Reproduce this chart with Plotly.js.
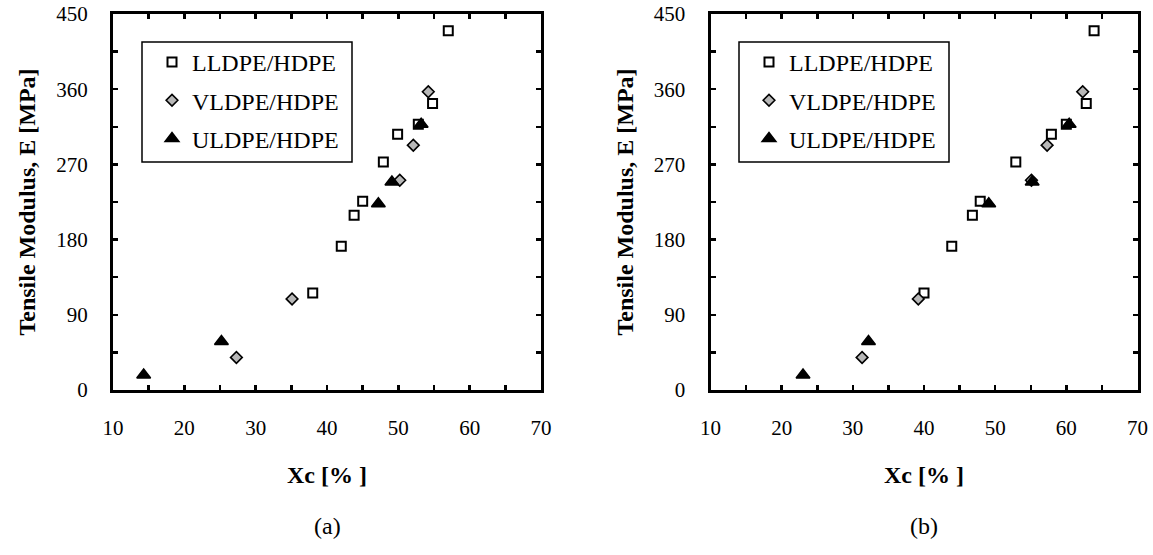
<!DOCTYPE html>
<html>
<head>
<meta charset="utf-8">
<script src="https://cdn.plot.ly/plotly-3.0.1.min.js"></script>
<style>
  html, body { margin: 0; padding: 0; background: #fff; }
  #chart { width: 1153px; height: 555px; }
</style>
</head>
<body>
<div id="chart"></div>
<script>
// Tensile modulus E [MPa] of each blend series (same specimens in both panels)
const modulusLLDPE = [116, 172, 209, 226, 273, 306, 318, 343, 430];
const modulusVLDPE = [39, 109, 251, 293, 357];
const modulusULDPE = [18, 58, 223, 249, 318];

// Crystallinity Xc [%] – panel (a)
const xcA_LLDPE = [38.0, 42.0, 43.8, 45.0, 47.9, 49.9, 52.8, 54.8, 57.0];
const xcA_VLDPE = [27.3, 35.1, 50.2, 52.1, 54.2];
const xcA_ULDPE = [14.3, 25.2, 47.2, 49.1, 53.2];

// Crystallinity Xc [%] – panel (b)
const xcB_LLDPE = [40.0, 43.9, 46.8, 47.9, 52.9, 57.9, 60.0, 62.8, 63.9];
const xcB_VLDPE = [31.3, 39.2, 55.1, 57.3, 62.3];
const xcB_ULDPE = [23.0, 32.2, 49.1, 55.2, 60.4];

const seriesNames = ['LLDPE/HDPE', 'VLDPE/HDPE', 'ULDPE/HDPE'];
const xTicks = [10, 20, 30, 40, 50, 60, 70];
const yTicks = [0, 90, 180, 270, 360, 450];
const panelLabels = ['(a)', '(b)'];

const W = 1153, H = 555;
const px = v => v / W;           // pixel -> paper x
const py = v => (H - v) / H;     // pixel (from top) -> paper y
const SERIF = 'Liberation Serif, Times New Roman, serif';

const markerStyles = [
  { symbol: 'square-open', size: 9, color: '#000', line: { color: '#000', width: 2 } },
  { symbol: 'diamond', size: 9, color: '#b8b8b8', line: { color: '#000', width: 1.6 } },
  { symbol: 'triangle-up', size: 12, color: '#000', line: { color: '#000', width: 1.5 } }
];

function makeTraces(xs, ys, xa, ya, legendId, suffix) {
  return xs.map((x, i) => ({
    type: 'scatter', mode: 'markers',
    x: x, y: ys[i],
    name: seriesNames[i],
    xaxis: xa, yaxis: ya,
    legend: legendId,
    legendgroup: seriesNames[i] + suffix,
    marker: markerStyles[i],
    cliponaxis: false
  }));
}

const moduli = [modulusLLDPE, modulusVLDPE, modulusULDPE];
const data = [].concat(
  makeTraces([xcA_LLDPE, xcA_VLDPE, xcA_ULDPE], moduli, 'x', 'y', 'legend', 'a'),
  makeTraces([xcB_LLDPE, xcB_VLDPE, xcB_ULDPE], moduli, 'x2', 'y2', 'legend2', 'b')
);

function xAxis(domain, anchor) {
  return {
    domain: domain, anchor: anchor, range: [10, 70],
    tickvals: xTicks, ticktext: xTicks.map(String),
    ticks: 'inside', ticklen: 5, tickwidth: 2.5, tickcolor: '#000',
    minor: { dtick: 5, tick0: 10, ticks: 'inside', ticklen: 5, tickwidth: 2.5, tickcolor: '#000', showgrid: false },
    showline: true, linewidth: 3, linecolor: '#000', mirror: 'ticks',
    showgrid: false, zeroline: false,
    ticklabelstandoff: 17,
    tickfont: { family: SERIF, size: 21, color: '#000' },
    title: { text: 'Xc [% ]', standoff: 27, font: { family: SERIF, size: 24, color: '#000', weight: 'bold' } },
    fixedrange: true
  };
}
function yAxis(anchor) {
  return {
    domain: [py(390), py(14)], anchor: anchor, range: [0, 450],
    tickvals: yTicks, ticktext: yTicks.map(String),
    ticks: 'inside', ticklen: 5, tickwidth: 2.5, tickcolor: '#000',
    minor: { dtick: 45, tick0: 0, ticks: 'inside', ticklen: 5, tickwidth: 2.5, tickcolor: '#000', showgrid: false },
    showline: true, linewidth: 3, linecolor: '#000', mirror: 'ticks',
    showgrid: false, zeroline: false,
    ticklabelstandoff: 18,
    tickfont: { family: SERIF, size: 21, color: '#000' },
    title: { text: 'Tensile Modulus, E [MPa]', standoff: 14, font: { family: SERIF, size: 24, color: '#000', weight: 'bold' } },
    fixedrange: true
  };
}

function legendAt(leftPx) {
  return {
    x: px(leftPx), y: py(40), xanchor: 'left', yanchor: 'top',
    bgcolor: 'rgba(0,0,0,0)', borderwidth: 0,
    font: { family: SERIF, size: 24, color: '#000' },
    tracegroupgap: 4, itemclick: false, itemdoubleclick: false
  };
}

function legendBox(x0, x1) {
  return {
    type: 'rect', xref: 'paper', yref: 'paper', layer: 'above',
    x0: px(x0), x1: px(x1), y0: py(162), y1: py(42),
    line: { color: '#000', width: 1.5 }, fillcolor: 'rgba(0,0,0,0)'
  };
}

function panelLabel(text, centerPx) {
  return {
    text: text, xref: 'paper', yref: 'paper', x: px(centerPx), y: py(526),
    xanchor: 'center', yanchor: 'middle', showarrow: false,
    font: { family: SERIF, size: 24, color: '#000' }
  };
}

const layout = {
  width: W, height: H,
  margin: { l: 0, r: 0, t: 0, b: 0 },
  paper_bgcolor: '#fff', plot_bgcolor: '#fff',
  showlegend: true,
  xaxis: xAxis([px(113), px(541)], 'y'),
  yaxis: yAxis('x'),
  xaxis2: xAxis([px(710.5), px(1137.5)], 'y2'),
  yaxis2: yAxis('x2'),
  legend: legendAt(152),
  legend2: legendAt(749),
  shapes: [legendBox(142, 352), legendBox(739, 949)],
  annotations: [panelLabel(panelLabels[0], 327), panelLabel(panelLabels[1], 924)]
};

Plotly.newPlot('chart', data, layout, { displayModeBar: false, staticPlot: true });
</script>
</body>
</html>
